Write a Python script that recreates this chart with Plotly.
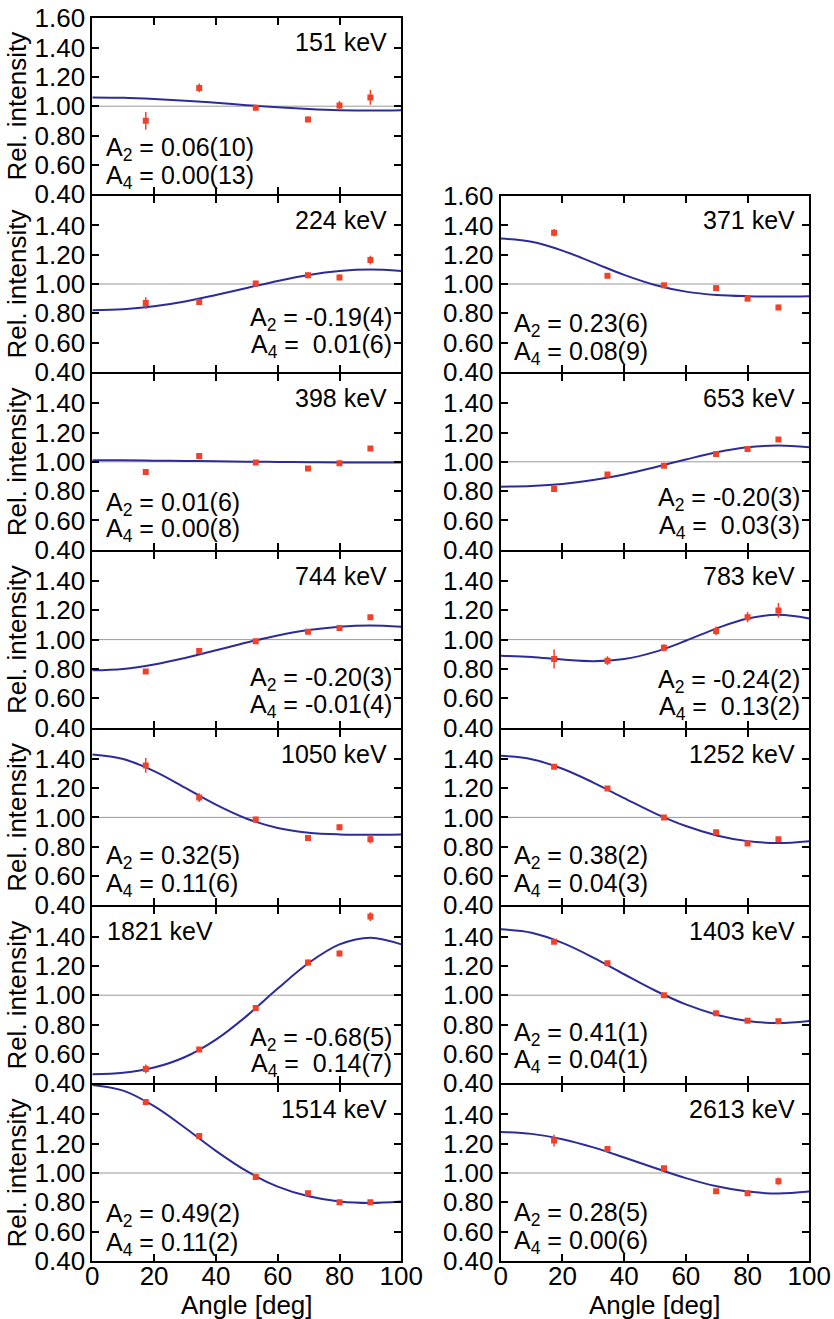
import plotly.graph_objects as go

# ---------------- data ----------------
ANGLES = [17.3, 34.6, 52.9, 69.8, 80.0, 90.0]
FIT_ANGLES = [0, 10, 20, 30, 40, 50, 60, 70, 80, 90, 100]
X_TICKS = [0, 20, 40, 60, 80, 100]
Y_TICKS = [0.40, 0.60, 0.80, 1.00, 1.20, 1.40, 1.60]

ENERGY = ["151 keV", "224 keV", "398 keV", "744 keV", "1050 keV", "1821 keV", "1514 keV",
          "371 keV", "653 keV", "783 keV", "1252 keV", "1403 keV", "2613 keV"]

I_151 = [0.90, 1.125, 0.99, 0.91, 1.005, 1.06]
E_151 = [0.06, 0.03, 0.02, 0.02, 0.03, 0.05]
I_224 = [0.87, 0.877, 1.003, 1.06, 1.045, 1.163]
E_224 = [0.04, 0.02, 0.02, 0.02, 0.02, 0.03]
I_398 = [0.93, 1.04, 0.995, 0.955, 0.99, 1.09]
E_398 = [0.01, 0.01, 0.015, 0.01, 0.01, 0.01]
I_744 = [0.783, 0.923, 0.989, 1.054, 1.079, 1.153]
E_744 = [0.01, 0.015, 0.015, 0.015, 0.015, 0.015]
I_1050 = [1.355, 1.135, 0.985, 0.86, 0.932, 0.851]
E_1050 = [0.05, 0.03, 0.02, 0.02, 0.02, 0.03]
I_1821 = [0.497, 0.63, 0.912, 1.223, 1.285, 1.537]
E_1821 = [0.03, 0.015, 0.015, 0.02, 0.02, 0.03]
I_1514 = [1.485, 1.253, 0.973, 0.862, 0.80, 0.80]
E_1514 = [0.02, 0.015, 0.01, 0.01, 0.01, 0.01]
I_371 = [1.35, 1.056, 0.991, 0.972, 0.90, 0.84]
E_371 = [0.025, 0.01, 0.01, 0.01, 0.01, 0.02]
I_653 = [0.815, 0.913, 0.973, 1.054, 1.088, 1.153]
E_653 = [0.01, 0.015, 0.015, 0.015, 0.015, 0.015]
I_783 = [0.867, 0.856, 0.944, 1.059, 1.153, 1.199]
E_783 = [0.065, 0.03, 0.025, 0.03, 0.035, 0.05]
I_1252 = [1.345, 1.198, 1.0, 0.898, 0.822, 0.851]
E_1252 = [0.015, 0.01, 0.01, 0.01, 0.01, 0.01]
I_1403 = [1.364, 1.218, 1.0, 0.876, 0.826, 0.822]
E_1403 = [0.015, 0.01, 0.01, 0.01, 0.01, 0.01]
I_2613 = [1.221, 1.163, 1.032, 0.876, 0.862, 0.944]
E_2613 = [0.04, 0.02, 0.01, 0.01, 0.015, 0.025]

# fitted curves at FIT_ANGLES
FIT_151 = [1.060, 1.057, 1.049, 1.038, 1.023, 1.007, 0.993, 0.981, 0.973, 0.970, 0.973]
FIT_224 = [0.820, 0.827, 0.848, 0.881, 0.925, 0.973, 1.021, 1.062, 1.089, 1.099, 1.089]
FIT_398 = [1.010, 1.010, 1.008, 1.006, 1.004, 1.001, 0.999, 0.997, 0.995, 0.995, 0.995]
FIT_744 = [0.790, 0.800, 0.830, 0.875, 0.927, 0.980, 1.028, 1.065, 1.088, 1.096, 1.088]
FIT_1050 = [1.430, 1.399, 1.316, 1.203, 1.087, 0.991, 0.928, 0.896, 0.884, 0.881, 0.884]
FIT_1821 = [0.460, 0.470, 0.506, 0.578, 0.697, 0.859, 1.045, 1.220, 1.347, 1.393, 1.347]
FIT_1514 = [1.600, 1.562, 1.456, 1.309, 1.151, 1.012, 0.907, 0.841, 0.806, 0.796, 0.806]
FIT_371 = [1.310, 1.288, 1.228, 1.146, 1.062, 0.993, 0.948, 0.925, 0.917, 0.915, 0.917]
FIT_653 = [0.830, 0.835, 0.849, 0.876, 0.914, 0.963, 1.016, 1.065, 1.099, 1.111, 1.099]
FIT_783 = [0.890, 0.882, 0.864, 0.853, 0.867, 0.916, 0.992, 1.077, 1.144, 1.169, 1.144]
FIT_1252 = [1.420, 1.397, 1.332, 1.238, 1.132, 1.028, 0.941, 0.877, 0.838, 0.825, 0.838]
FIT_1403 = [1.450, 1.426, 1.357, 1.257, 1.143, 1.032, 0.937, 0.867, 0.824, 0.810, 0.824]
FIT_2613 = [1.280, 1.267, 1.231, 1.175, 1.106, 1.034, 0.965, 0.909, 0.873, 0.860, 0.873]

A2_TEXT = ["0.06(10)", "-0.19(4)", "0.01(6)", "-0.20(3)", "0.32(5)", "-0.68(5)", "0.49(2)",
           "0.23(6)", "-0.20(3)", "-0.24(2)", "0.38(2)", "0.41(1)", "0.28(5)"]
A4_TEXT = ["0.00(13)", " 0.01(6)", "0.00(8)", "-0.01(4)", "0.11(6)", " 0.14(7)", "0.11(2)",
           "0.08(9)", " 0.03(3)", " 0.13(2)", "0.04(3)", "0.04(1)", "0.00(6)"]

INTENS = [I_151, I_224, I_398, I_744, I_1050, I_1821, I_1514,
          I_371, I_653, I_783, I_1252, I_1403, I_2613]
ERRS = [E_151, E_224, E_398, E_744, E_1050, E_1821, E_1514,
        E_371, E_653, E_783, E_1252, E_1403, E_2613]
FITS = [FIT_151, FIT_224, FIT_398, FIT_744, FIT_1050, FIT_1821, FIT_1514,
        FIT_371, FIT_653, FIT_783, FIT_1252, FIT_1403, FIT_2613]

# ---------------- layout of panels ----------------
COL = [0, 0, 0, 0, 0, 0, 0, 1, 1, 1, 1, 1, 1]
ROW = [0, 1, 2, 3, 4, 5, 6, 1, 2, 3, 4, 5, 6]
LABEL_RIGHT = [False, True, False, True, False, True, False,
               False, True, True, False, False, False]
ENERGY_LEFT = [False, False, False, False, False, True, False,
               False, False, False, False, False, False]
LAB_Y2 = [0.71, 0.76, 0.71, 0.73, 0.73, 0.70, 0.715, 0.717, 0.745, 0.72, 0.73, 0.737, 0.717]
LAB_Y4 = [0.52, 0.58, 0.535, 0.55, 0.54, 0.525, 0.515, 0.528, 0.555, 0.53, 0.54, 0.55, 0.53]

W, H = 834, 1319
LW = 2.0
X_DOM = [(92.3 / W, 401.3 / W), (500.7 / W, 809.3 / W)]
TOP0 = 17.3
PH = 177.8

FONT = "Liberation Sans, Arial, Helvetica, sans-serif"
RED = "#f0422a"
BLUE = "#2c2c98"
FS_TICK = 26
FS_TEXT = 25

fig = go.Figure()
layout = dict(
    width=W, height=H, margin=dict(l=0, r=0, t=0, b=0, pad=0, autoexpand=False),
    paper_bgcolor="white", plot_bgcolor="white", showlegend=False,
    font=dict(family=FONT, size=FS_TICK, color="black"),
)
annotations = []
shapes = []

for i in range(13):
    n = i + 1
    xa = "x" if n == 1 else f"x{n}"
    ya = "y" if n == 1 else f"y{n}"
    xkey = "xaxis" if n == 1 else f"xaxis{n}"
    ykey = "yaxis" if n == 1 else f"yaxis{n}"
    top = TOP0 + ROW[i] * PH + LW / 2
    bot = TOP0 + (ROW[i] + 1) * PH - LW / 2
    ydom = (1 - bot / H, 1 - top / H)
    bottom_row = ROW[i] == 6
    top_panel = (i == 0) or (i == 7)

    layout[xkey] = dict(
        domain=list(X_DOM[COL[i]]), anchor=ya, range=[0, 100], automargin=False,
        tickmode="array", tickvals=X_TICKS,
        ticktext=[str(v) for v in X_TICKS] if bottom_row else [""] * len(X_TICKS),
        showticklabels=bottom_row, ticklabelstandoff=-9,
        ticks="inside", ticklen=7, tickwidth=1.5, tickcolor="black",
        showline=True, linecolor="black", linewidth=LW, mirror="ticks",
        showgrid=False, zeroline=False,
        tickfont=dict(size=FS_TICK, family=FONT),
    )
    ytext = []
    for v in Y_TICKS:
        if v > 1.5 and not top_panel:
            ytext.append("")
        else:
            ytext.append(f"{v:.2f}")
    layout[ykey] = dict(
        domain=list(ydom), anchor=xa, range=[0.4, 1.6], automargin=False,
        tickmode="array", tickvals=Y_TICKS, ticktext=ytext,
        ticks="inside", ticklen=7, tickwidth=1.5, tickcolor="black",
        showline=True, linecolor="black", linewidth=LW, mirror="ticks",
        showgrid=False, zeroline=False,
        tickfont=dict(size=FS_TICK, family=FONT),
        title=dict(text="Rel. intensity" if COL[i] == 0 else "", font=dict(size=FS_TICK), standoff=0),
    )

    if bottom_row:
        x0, x1 = X_DOM[COL[i]]
        annotations.append(dict(text="Angle [deg]", x=(x0 + x1) / 2, y=1 - 1305 / H,
                                xref="paper", yref="paper", xanchor="center", yanchor="middle",
                                showarrow=False, font=dict(size=FS_TICK)))

    # unity reference line
    shapes.append(dict(type="line", xref=xa, yref=ya, x0=0, x1=100, y0=1.0, y1=1.0,
                       line=dict(color="#9a9a9a", width=1), layer="below"))

    # fit curve
    fig.add_trace(go.Scatter(x=FIT_ANGLES, y=FITS[i], mode="lines", xaxis=xa, yaxis=ya,
                             line=dict(color=BLUE, width=2, shape="spline"),
                             hoverinfo="skip"))
    # data
    fig.add_trace(go.Scatter(x=ANGLES, y=INTENS[i], mode="markers", xaxis=xa, yaxis=ya,
                             marker=dict(symbol="square", size=6, color=RED),
                             error_y=dict(type="data", array=ERRS[i], color=RED,
                                          thickness=1.5, width=0)))

    # energy label
    if ENERGY_LEFT[i]:
        annotations.append(dict(text=ENERGY[i], x=4, y=1.435, xref=xa, yref=ya,
                                xanchor="left", yanchor="middle", showarrow=False,
                                font=dict(size=FS_TEXT)))
    else:
        annotations.append(dict(text=ENERGY[i], x=96, y=1.435, xref=xa, yref=ya,
                                xanchor="right", yanchor="middle", showarrow=False,
                                font=dict(size=FS_TEXT)))
    # coefficient labels
    t2 = "A<sub>2</sub> = " + A2_TEXT[i]
    t4 = "A<sub>4</sub> = " + A4_TEXT[i].replace(" ", "\u00a0")
    if LABEL_RIGHT[i]:
        xx, anc = 97.5, "right"
    else:
        xx, anc = 3.8, "left"
    for t, yy in ((t2, LAB_Y2[i]), (t4, LAB_Y4[i])):
        annotations.append(dict(text=t, x=xx, y=yy, xref=xa, yref=ya,
                                xanchor=anc, yanchor="middle", showarrow=False,
                                font=dict(size=FS_TEXT)))

layout["annotations"] = annotations
layout["shapes"] = shapes
fig.update_layout(**layout)
fig.write_html("out.html")
